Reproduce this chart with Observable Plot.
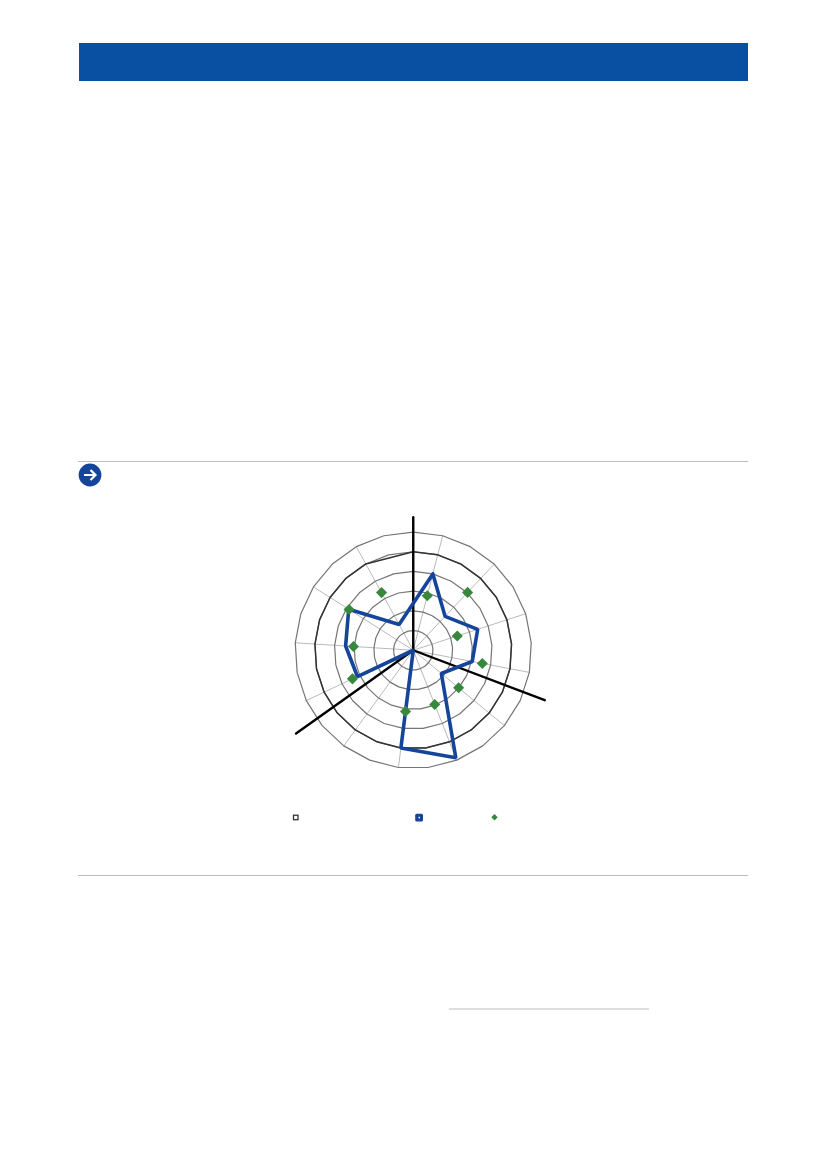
<!DOCTYPE html>
<html><head><meta charset="utf-8">
<script src="https://cdn.jsdelivr.net/npm/d3@7"></script>
<script src="https://cdn.jsdelivr.net/npm/@observablehq/plot@0.6"></script>
<style>
html,body{margin:0;padding:0;background:#fff;}
body{position:relative;width:826px;height:1169px;overflow:hidden;}
.abs{position:absolute;}
</style></head><body>
<div class="abs" style="left:79px;top:43px;width:669px;height:37.5px;background:#0a50a2"></div>
<div class="abs" style="left:78px;top:461px;width:670px;height:1.3px;background:#bdbdbd"></div>
<svg class="abs" style="left:78px;top:463px" width="24" height="24" viewBox="0 0 24 24">
<circle cx="12" cy="12" r="11.4" fill="#14459b"/>
<path d="M6 12H17M12.5 7l5 5l-5 5" fill="none" stroke="#fff" stroke-width="2.2"/>
</svg>
<div class="abs" style="left:78px;top:875px;width:670px;height:1.3px;background:#bdbdbd"></div>
<div class="abs" style="left:449px;top:1008.3px;width:200px;height:1.8px;background:#dedede"></div>
<div id="chart" class="abs" style="left:263px;top:500px"></div>
<svg class="abs" style="left:285px;top:810px" width="220" height="14">
<rect x="8.5" y="5.2" width="4.5" height="4.5" fill="#fff" stroke="#333" stroke-width="1.3"/>
<rect x="130.2" y="3.7" width="7.8" height="7.8" rx="1.5" fill="#14459b"/>
<rect x="133.5" y="6.8" width="1.5" height="1.5" fill="#fff"/>
<path d="M209.5 4.1l3.2 3.2l-3.2 3.2l-3.2-3.2z" fill="#37883c"/>
</svg>
<script>
const spokeAngles=[0,14.4,43.2,72,100.8,129.6,158.4,187.2,216,244.8,273.6,302.4,331.2];
const ringLevels=[1,2,3,4,5,6];
const thresholdLevel=[5];
const blueAngles=[14.4,43.2,72,100.8,129.6,158.4,187.2,216,244.8,273.6,302.4,331.2];
const blueValues=[4.0,2.36,3.44,3.05,1.85,5.87,5.0,0,3.13,3.44,3.88,1.49];
const greenAngles=[14.4,43.2,72,100.8,129.6,158.4,187.2,244.8,273.6,302.4,331.2];
const greenValues=[2.86,4.03,2.35,3.57,2.99,2.96,3.13,3.41,3.04,3.86,3.34];
const axisAngles=[0,110.8,234.6];
const axisLengths=[6.75,7.14,7.3];
const ringAngles=d3.range(0,25).map(i=>i*14.4);
const spokeLength=6;

const pt=(a,r)=>{const t=a*Math.PI/180;return {x:r*Math.sin(t),y:r*Math.cos(t)};};
const ringData=ringLevels.flatMap(l=>[...ringAngles,360].map(a=>({...pt(a,l),l})));
const thresholdData=[...ringAngles.filter(a=>a!==345.6),360].map(a=>pt(a,thresholdLevel[0]));
const spokeData=spokeAngles.flatMap(a=>[{x:0,y:0,a},{...pt(a,spokeLength),a}]);
const axisData=axisAngles.flatMap((a,i)=>[{x:0,y:0,a},{...pt(a,axisLengths[i]),a}]);
const blueData=blueAngles.map((a,i)=>pt(a,blueValues[i]));
const greenData=greenAngles.map((a,i)=>pt(a,greenValues[i]));

const half=7.5;              // data units shown either side of centre
const size=half*2*19.7;      // 19.7px per ring
const chart=Plot.plot({
  width:size,height:size,margin:0,
  x:{domain:[-half,half],axis:null},
  y:{domain:[-half,half],axis:null},
  marks:[
    Plot.line(spokeData,{x:"x",y:"y",z:"a",stroke:"#a8a8a8",strokeWidth:0.8}),
    Plot.line(ringData,{x:"x",y:"y",z:"l",stroke:"#757575",strokeWidth:1.2,curve:"linear"}),
    Plot.line(thresholdData,{x:"x",y:"y",stroke:"#333",strokeWidth:1.5}),
    Plot.line(axisData,{x:"x",y:"y",z:"a",stroke:"#000",strokeWidth:2.4}),
    Plot.line([...blueData,blueData[0]],{x:"x",y:"y",stroke:"#14459b",strokeWidth:3.6,strokeLinejoin:"miter"}),
    Plot.dot(greenData,{x:"x",y:"y",symbol:"diamond2",r:5,fill:"#37883c",stroke:"none"})
  ]
});
document.getElementById("chart").appendChild(chart);
chart.style.position="absolute";
chart.style.left=(412.6-263-size/2)+"px";
chart.style.top=(650-500-size/2)+"px";
chart.style.background="transparent";
chart.style.maxWidth="none";
</script>
</body></html>
